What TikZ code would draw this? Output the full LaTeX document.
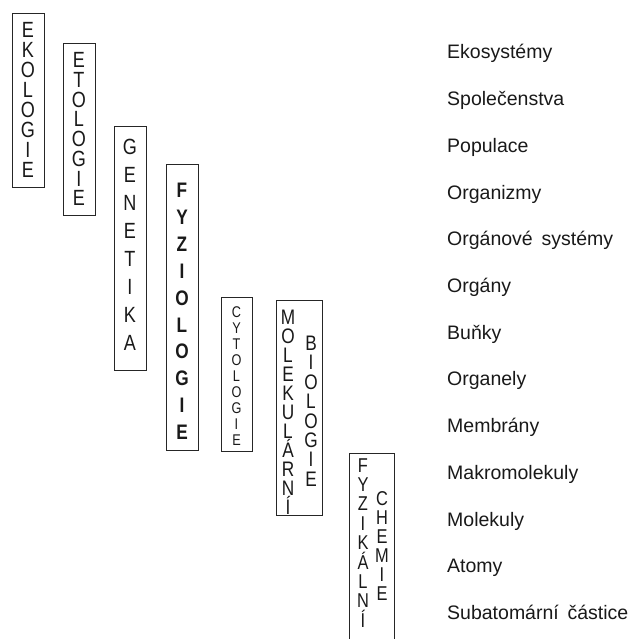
\documentclass[tikz,border=0pt]{standalone}
\usepackage{fontspec}
\setmainfont{Liberation Sans}
\newfontfamily\narfont[FakeStretch=0.82]{Liberation Sans}
\begin{document}
\begin{tikzpicture}[x=1pt,y=-1pt,
  box/.style={draw=black!85, line width=0.8pt, inner sep=0pt},
  let/.style={inner sep=0pt, text height=15.7pt, text depth=0pt, text=black!90, font=\narfont\fontsize{22}{22}\selectfont},
  boldlet/.style={let, text height=15pt, font=\narfont\fontsize{21}{21}\selectfont\bfseries},
  smalllet/.style={let, text height=11.1pt, font=\narfont\fontsize{15.5}{15.5}\selectfont},
  midlet/.style={let, text height=14.3pt, font=\narfont\fontsize{20}{20}\selectfont},
  lab/.style={inner sep=0pt, anchor=west, text height=14pt, text depth=0pt, text=black!90, font=\fontsize{19.5}{19.5}\selectfont}
]
\useasboundingbox (0,0) rectangle (632,639);

% boxes
\node[box, minimum width=32pt, minimum height=174pt] (bEko) at (28,100) {};
\node[box, minimum width=32pt, minimum height=172pt] (bEto) at (79,129) {};
\node[box, minimum width=32pt, minimum height=244pt] (bGen) at (130,248) {};
\node[box, minimum width=32pt, minimum height=286pt] (bFyz) at (182,307) {};
\node[box, minimum width=31pt, minimum height=154pt] (bCyt) at (236.5,374) {};
\node[box, minimum width=46pt, minimum height=215pt] (bMol) at (299,407.5) {};
\node[box, minimum width=45pt, minimum height=207pt] (bChem) at (371.5,556.5) {};

% letters
\foreach \l [count=\i] in {E,K,O,L,O,G,I,E}
  \node[let] (eko\i) at (28,{30+(\i-1)*20}) {\l};
\foreach \l [count=\i] in {E,T,O,L,O,G,I,E}
  \node[let] (eto\i) at (79,{60+(\i-1)*19.7}) {\l};
\foreach \l [count=\i] in {G,E,N,E,T,I,K,A}
  \node[let] (gen\i) at (130,{147+(\i-1)*28}) {\l};
\foreach \l [count=\i] in {F,Y,Z,I,O,L,O,G,I,E}
  \node[boldlet] (fyz\i) at (182,{190+(\i-1)*26.9}) {\l};
\foreach \l [count=\i] in {C,Y,T,O,L,O,G,I,E}
  \node[smalllet] (cyt\i) at (236.5,{312+(\i-1)*16}) {\l};
\foreach \l [count=\i] in {M,O,L,E,K,U,L,Á,R,N,Í}
  \node[let, text height=15pt, font=\narfont\fontsize{21}{21}\selectfont] (mol\i) at (288,{317+(\i-1)*19}) {\l};
\foreach \l [count=\i] in {B,I,O,L,O,G,I,E}
  \node[let, text height=15pt, font=\narfont\fontsize{21}{21}\selectfont] (bio\i) at (311,{343+(\i-1)*19.4}) {\l};
\foreach \l [count=\i] in {F,Y,Z,I,K,Á,L,N,Í}
  \node[midlet] (fyk\i) at (363,{465+(\i-1)*19.4}) {\l};
\foreach \l [count=\i] in {C,H,E,M,I,E}
  \node[midlet] (che\i) at (382,{498+(\i-1)*19}) {\l};

% level labels
\foreach \t [count=\i] in {Ekosystémy,Společenstva,Populace,Organizmy,Orgánové\hspace{0.45em}systémy,Orgány,Buňky,Organely,Membrány,Makromolekuly,Molekuly,Atomy,Subatomární\hspace{0.45em}částice}
  \node[lab] (lev\i) at (447,{52+(\i-1)*46.7}) {\t};
\end{tikzpicture}
\end{document}
